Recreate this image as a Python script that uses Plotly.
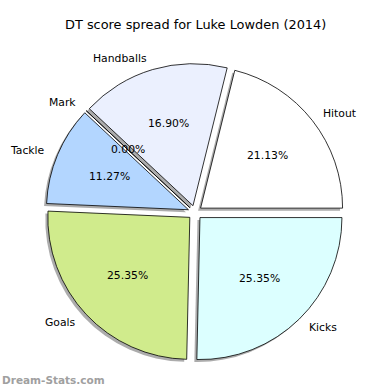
import numpy as np
import plotly.graph_objects as go

labels = ["Kicks", "Goals", "Tackle", "Mark", "Handballs", "Hitout"]
values = [25.35, 25.35, 11.27, 0.00, 16.90, 21.13]
colors = ["#DCFFFF", "#D0EB8C", "#B3D6FF", "#F5D0FF", "#EBF0FE", "#FFFFFF"]
title = "DT score spread for Luke Lowden (2014)"
watermark = "Dream-Stats.com"

W = H = 390
cx, cy = 195.0, 212.5      # pie centre (pixels, from top-left)
R = 142.0                  # pie radius in pixels
pull = 0.05
half = R * (1 + pull)

dom_x = [(cx - half) / W, (cx + half) / W]
dom_y = [1 - (cy + half) / H, 1 - (cy - half) / H]
sh = 2.5  # shadow offset px
dom_xs = [dom_x[0] - sh / W, dom_x[1] - sh / W]
dom_ys = [dom_y[0] - sh / H, dom_y[1] - sh / H]

fig = go.Figure()
# shadow
fig.add_trace(go.Pie(
    values=values, labels=labels, sort=False, direction="clockwise", rotation=90,
    pull=[pull] * len(values), domain=dict(x=dom_xs, y=dom_ys),
    marker=dict(colors=["rgba(90,90,90,0.5)"] * len(values), line=dict(width=0)),
    textinfo="none", hoverinfo="skip", showlegend=False,
))
fig.add_trace(go.Pie(
    values=values, labels=labels, sort=False, direction="clockwise", rotation=90,
    pull=[pull] * len(values), domain=dict(x=dom_x, y=dom_y),
    marker=dict(colors=colors, line=dict(color="black", width=0.8)),
    textinfo="none", showlegend=False,
))

# text annotations, placed like matplotlib (percent at 0.6R, label outside)
total = sum(values)
start = 0.0
font = "DejaVu Sans"
for lab, v in zip(labels, values):
    frac = v / total
    theta = start - frac * 360 / 2
    start -= frac * 360
    t = np.radians(theta)
    ox, oy = cx + pull * R * np.cos(t), cy - pull * R * np.sin(t)
    px, py = ox + 0.6 * R * np.cos(t), oy - 0.6 * R * np.sin(t)
    fig.add_annotation(x=px / W, y=1 - py / H, xref="paper", yref="paper",
                       text=f"{v:.2f}%", showarrow=False, xanchor="center", yanchor="middle",
                       font=dict(family=font, size=10.8, color="black"))
    lx, ly = ox + 1.08 * R * np.cos(t), oy - 1.08 * R * np.sin(t)
    fig.add_annotation(x=lx / W, y=1 - ly / H, xref="paper", yref="paper",
                       text=lab, showarrow=False,
                       xanchor="left" if np.cos(t) > 0 else "right", yanchor="middle",
                       font=dict(family=font, size=10.8, color="black"))

fig.add_annotation(x=0.5, y=1 - 25 / H, xref="paper", yref="paper", text=title,
                   showarrow=False, xanchor="center", yanchor="middle",
                   font=dict(family=font, size=12.9, color="black"))
fig.add_annotation(x=0, y=1 - 380 / H, xref="paper", yref="paper", text=f"<b>{watermark}</b>",
                   showarrow=False, xanchor="left", yanchor="middle",
                   font=dict(family=font, size=10.5, color="#A0A0A0"))

fig.update_layout(width=W, height=H, margin=dict(l=0, r=0, t=0, b=0),
                  paper_bgcolor="white", plot_bgcolor="white", showlegend=False)
fig.write_html("out.html")
